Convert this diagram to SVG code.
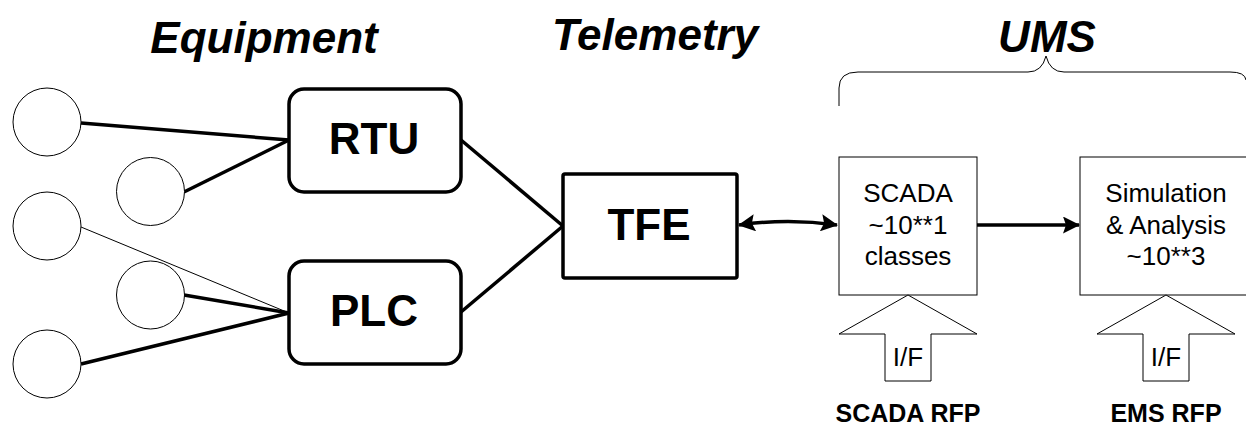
<svg xmlns="http://www.w3.org/2000/svg" width="1246" height="429" viewBox="0 0 1246 429">
<style>
.title{font-family:"Liberation Sans",Arial,sans-serif;font-weight:bold;font-style:italic;font-size:44px;text-anchor:middle;fill:#000}
.big{font-family:"Liberation Sans",Arial,sans-serif;font-weight:bold;font-size:44px;text-anchor:middle;fill:#000}
.mid{font-family:"Liberation Sans",Arial,sans-serif;font-size:26px;text-anchor:middle;fill:#000}
.lab{font-family:"Liberation Sans",Arial,sans-serif;font-weight:bold;font-size:25px;text-anchor:middle;fill:#000}
.dev{fill:#fff;stroke:#000;stroke-width:1}
.thick{fill:none;stroke:#000;stroke-width:3.5}
.thin{fill:none;stroke:#000;stroke-width:1}
.box{fill:#fff;stroke:#000;stroke-width:3.5}
.ubox{fill:#fff;stroke:#000;stroke-width:1}
</style>
<defs>
<marker id="ah" viewBox="0 0 17 17" refX="16" refY="8.5" markerWidth="17" markerHeight="17" markerUnits="userSpaceOnUse" orient="auto-start-reverse">
<path d="M0,0 L17,8.5 L0,17 L3,8.5 z" fill="#000"/>
</marker>
</defs>
<text class="title" x="264" y="53">Equipment</text>
<text class="title" x="655" y="50">Telemetry</text>
<text class="title" x="1047" y="52">UMS</text>
<path class="thin" d="M839,106 V88 Q839,72 858,72 H1028 Q1042,72 1046,56 Q1050,72 1064,72 H1230 Q1245,72 1246,80"/>
<g id="connectors">
<line class="thick" x1="81" y1="123" x2="289" y2="140"/>
<line class="thick" x1="184" y1="192" x2="289" y2="140"/>
<line class="thin" x1="81" y1="227" x2="289" y2="313"/>
<line class="thick" x1="184" y1="295" x2="289" y2="313"/>
<line class="thick" x1="81" y1="364" x2="289" y2="313"/>
<line class="thick" x1="461" y1="140" x2="563" y2="226"/>
<line class="thick" x1="461" y1="312" x2="563" y2="226"/>
<path class="thick" d="M739,225 Q788,218 837,225" stroke-width="3.5" marker-start="url(#ah)" marker-end="url(#ah)"/>
<line class="thick" x1="977" y1="225" x2="1079" y2="225" stroke-width="4.5" marker-end="url(#ah)"/>
</g>
<g id="dev1"><circle class="dev" cx="47" cy="122" r="34"/></g>
<g id="dev2"><circle class="dev" cx="150.5" cy="191.5" r="34"/></g>
<g id="dev3"><circle class="dev" cx="47" cy="226" r="34"/></g>
<g id="dev4"><circle class="dev" cx="150.5" cy="295" r="34"/></g>
<g id="dev5"><circle class="dev" cx="47" cy="364" r="34"/></g>
<g id="rtu"><rect class="box" x="289" y="89" width="172" height="103" rx="15"/><text class="big" x="374" y="154">RTU</text></g>
<g id="plc"><rect class="box" x="289" y="261" width="172" height="103" rx="15"/><text class="big" x="374" y="326">PLC</text></g>
<g id="tfe"><rect class="box" x="563" y="174" width="174" height="104" rx="2"/><text class="big" x="649" y="240">TFE</text></g>
<g id="scada"><rect class="ubox" x="839" y="157" width="138" height="138"/>
<text class="mid" x="908" y="202">SCADA</text><text class="mid" x="908" y="234">~10**1</text><text class="mid" x="908" y="265">classes</text></g>
<g id="sim"><rect class="ubox" x="1080" y="157" width="170" height="138"/>
<text class="mid" x="1166" y="202">Simulation</text><text class="mid" x="1166" y="234">&amp; Analysis</text><text class="mid" x="1166" y="265">~10**3</text></g>
<g id="if1"><path class="ubox" d="M908,295 L977,334 H931 V381 H885 V334 H839 Z"/><text class="mid" x="908" y="366">I/F</text></g>
<g id="if2"><path class="ubox" d="M1166,295 L1235,334 H1189 V381 H1143 V334 H1097 Z"/><text class="mid" x="1166" y="366">I/F</text></g>
<g id="rfp1"><text class="lab" x="908" y="422">SCADA RFP</text></g>
<g id="rfp2"><text class="lab" x="1166" y="422">EMS RFP</text></g>
</svg>
